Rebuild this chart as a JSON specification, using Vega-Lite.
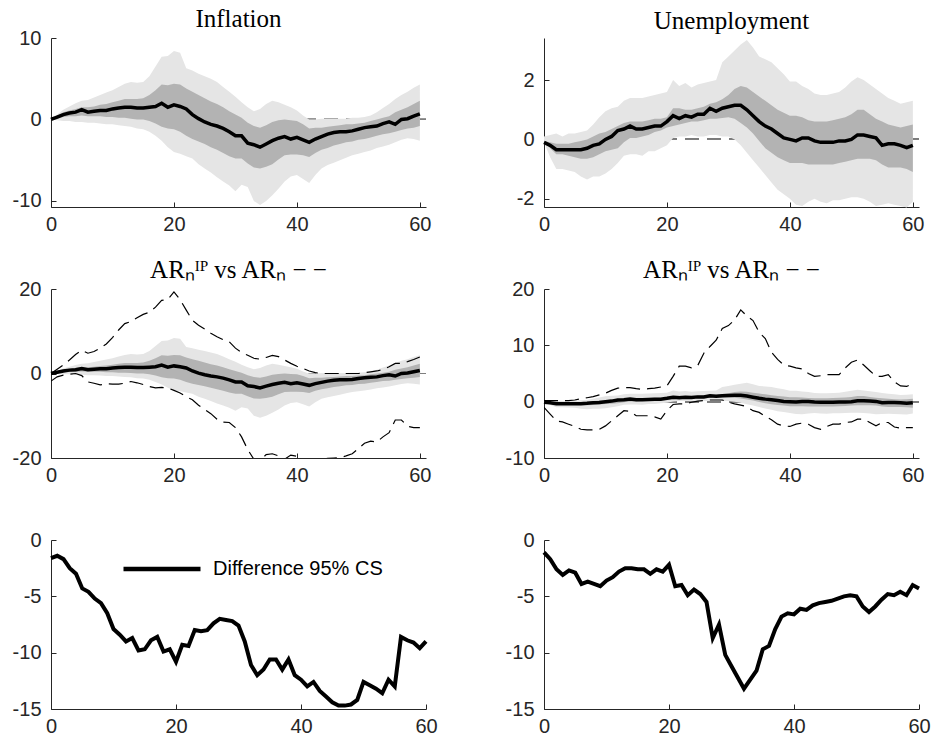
{
 "$schema": "https://vega.github.io/schema/vega-lite/v6.json",
 "background": "white",
 "padding": {"left": 12, "top": 7, "right": 0, "bottom": 0},
 "columns": 2,
 "spacing": {"row": 82, "column": 118},
 "bounds": "flush",
 "resolve": {"scale": {"stroke": "independent"}, "legend": {"stroke": "independent"}},
 "config": {
  "view": {"stroke": null},
  "axis": {"grid": false, "domainColor": "#262626", "domainWidth": 1, "tickColor": "#262626", "tickWidth": 1, "tickSize": -5, "labelColor": "#262626", "labelFont": "Liberation Sans", "labelFontSize": 20, "labelFlush": false, "labelOverlap": false, "labelExpr": "replace(datum.label, '−', '-')"},
  "axisX": {"labelPadding": 12},
  "axisY": {"labelPadding": 15},
  "title": {"font": "Liberation Serif", "fontSize": 25, "fontWeight": "normal", "color": "black", "baseline": "alphabetic", "frame": "group", "anchor": "middle"}
 },
 "datasets": {
  "infl": [
   {"h":0,"med":0,"lo68":0,"hi68":0,"lo95":0,"hi95":0,"arlo":-1.8,"arhi":0},
   {"h":1,"med":0.3,"lo68":0.1,"hi68":0.5,"lo95":-0.1,"hi95":0.6,"arlo":-0.8,"arhi":1.0},
   {"h":2,"med":0.6,"lo68":0.3,"hi68":0.9,"lo95":-0.2,"hi95":1.2,"arlo":-0.4,"arhi":2.0},
   {"h":3,"med":0.8,"lo68":0.4,"hi68":1.1,"lo95":-0.2,"hi95":1.6,"arlo":-0.2,"arhi":3.2},
   {"h":4,"med":0.9,"lo68":0.4,"hi68":1.3,"lo95":-0.3,"hi95":2.0,"arlo":0,"arhi":4.5},
   {"h":5,"med":1.2,"lo68":0.5,"hi68":1.5,"lo95":-0.3,"hi95":2.3,"arlo":-0.5,"arhi":5.5},
   {"h":6,"med":0.9,"lo68":0.4,"hi68":1.5,"lo95":-0.4,"hi95":2.4,"arlo":-2.0,"arhi":4.8},
   {"h":7,"med":1.0,"lo68":0.4,"hi68":1.6,"lo95":-0.4,"hi95":2.7,"arlo":-2.3,"arhi":5.2},
   {"h":8,"med":1.1,"lo68":0.4,"hi68":1.8,"lo95":-0.5,"hi95":3.0,"arlo":-2.7,"arhi":6.0},
   {"h":9,"med":1.1,"lo68":0.3,"hi68":1.9,"lo95":-0.6,"hi95":3.3,"arlo":-2.4,"arhi":7.0},
   {"h":10,"med":1.3,"lo68":0.3,"hi68":2.1,"lo95":-0.6,"hi95":3.6,"arlo":-2.5,"arhi":8.5},
   {"h":11,"med":1.4,"lo68":0.2,"hi68":2.3,"lo95":-0.7,"hi95":4.0,"arlo":-2.5,"arhi":10.3},
   {"h":12,"med":1.5,"lo68":0.2,"hi68":2.5,"lo95":-0.8,"hi95":4.4,"arlo":-2.3,"arhi":11.8},
   {"h":13,"med":1.5,"lo68":0.1,"hi68":2.5,"lo95":-0.9,"hi95":4.6,"arlo":-1.9,"arhi":12.3},
   {"h":14,"med":1.4,"lo68":0.0,"hi68":2.5,"lo95":-1.1,"hi95":4.5,"arlo":-2.2,"arhi":13.2},
   {"h":15,"med":1.4,"lo68":0.0,"hi68":2.6,"lo95":-1.2,"hi95":4.6,"arlo":-2.6,"arhi":14.0},
   {"h":16,"med":1.5,"lo68":-0.2,"hi68":3.0,"lo95":-1.5,"hi95":5.3,"arlo":-3.1,"arhi":14.5},
   {"h":17,"med":1.6,"lo68":-0.5,"hi68":3.6,"lo95":-2.0,"hi95":6.5,"arlo":-3.4,"arhi":15.7},
   {"h":18,"med":2.0,"lo68":-0.9,"hi68":4.3,"lo95":-2.6,"hi95":7.7,"arlo":-3.3,"arhi":17.3},
   {"h":19,"med":1.5,"lo68":-1.1,"hi68":4.2,"lo95":-3.4,"hi95":7.8,"arlo":-3.4,"arhi":17.5},
   {"h":20,"med":1.8,"lo68":-1.2,"hi68":4.4,"lo95":-4.0,"hi95":8.4,"arlo":-4.0,"arhi":19.3},
   {"h":21,"med":1.6,"lo68":-1.5,"hi68":4.3,"lo95":-4.2,"hi95":8.2,"arlo":-4.6,"arhi":17.5},
   {"h":22,"med":1.3,"lo68":-2.0,"hi68":3.8,"lo95":-4.5,"hi95":6.3,"arlo":-5.5,"arhi":15.0},
   {"h":23,"med":0.6,"lo68":-2.4,"hi68":3.4,"lo95":-4.8,"hi95":6.0,"arlo":-6.2,"arhi":12.6},
   {"h":24,"med":0.1,"lo68":-2.7,"hi68":3.0,"lo95":-5.5,"hi95":5.6,"arlo":-7.5,"arhi":11.4},
   {"h":25,"med":-0.3,"lo68":-3.0,"hi68":2.6,"lo95":-6.0,"hi95":5.3,"arlo":-8.5,"arhi":10.5},
   {"h":26,"med":-0.6,"lo68":-3.4,"hi68":2.2,"lo95":-6.5,"hi95":5.0,"arlo":-9.5,"arhi":9.5},
   {"h":27,"med":-0.8,"lo68":-3.7,"hi68":1.9,"lo95":-7.1,"hi95":4.6,"arlo":-10.8,"arhi":8.7},
   {"h":28,"med":-1.1,"lo68":-4.1,"hi68":1.5,"lo95":-7.6,"hi95":4.0,"arlo":-11.5,"arhi":8.0},
   {"h":29,"med":-1.5,"lo68":-4.5,"hi68":1.0,"lo95":-8.1,"hi95":3.4,"arlo":-11.6,"arhi":7.5},
   {"h":30,"med":-2.0,"lo68":-4.8,"hi68":0.6,"lo95":-8.8,"hi95":2.8,"arlo":-12.8,"arhi":6.0},
   {"h":31,"med":-2.0,"lo68":-4.8,"hi68":0.2,"lo95":-8.0,"hi95":2.1,"arlo":-15.0,"arhi":5.0},
   {"h":32,"med":-2.9,"lo68":-5.4,"hi68":-0.4,"lo95":-8.3,"hi95":1.5,"arlo":-18.0,"arhi":4.3},
   {"h":33,"med":-3.1,"lo68":-5.9,"hi68":-0.8,"lo95":-10.0,"hi95":1.0,"arlo":-20.3,"arhi":3.6},
   {"h":34,"med":-3.4,"lo68":-6.0,"hi68":-1.0,"lo95":-10.5,"hi95":1.3,"arlo":-20.6,"arhi":3.4},
   {"h":35,"med":-3.0,"lo68":-5.8,"hi68":-0.7,"lo95":-10.0,"hi95":1.9,"arlo":-19.2,"arhi":3.8},
   {"h":36,"med":-2.6,"lo68":-5.5,"hi68":-0.3,"lo95":-9.3,"hi95":2.3,"arlo":-19.0,"arhi":4.3},
   {"h":37,"med":-2.3,"lo68":-4.9,"hi68":-0.1,"lo95":-8.5,"hi95":2.1,"arlo":-19.5,"arhi":4.0},
   {"h":38,"med":-2.1,"lo68":-4.4,"hi68":0.0,"lo95":-7.6,"hi95":1.8,"arlo":-20.3,"arhi":3.2},
   {"h":39,"med":-2.4,"lo68":-4.3,"hi68":-0.1,"lo95":-7.0,"hi95":1.5,"arlo":-19.3,"arhi":2.4},
   {"h":40,"med":-2.2,"lo68":-4.3,"hi68":-0.2,"lo95":-6.8,"hi95":1.1,"arlo":-19.6,"arhi":1.7},
   {"h":41,"med":-2.5,"lo68":-4.4,"hi68":-0.6,"lo95":-7.3,"hi95":0.5,"arlo":-20.5,"arhi":1.2},
   {"h":42,"med":-2.8,"lo68":-4.6,"hi68":-1.1,"lo95":-7.8,"hi95":0.0,"arlo":-20.5,"arhi":0.6},
   {"h":43,"med":-2.4,"lo68":-4.1,"hi68":-1.0,"lo95":-6.8,"hi95":0.0,"arlo":-20.3,"arhi":0.2},
   {"h":44,"med":-2.1,"lo68":-3.7,"hi68":-1.0,"lo95":-6.0,"hi95":0.1,"arlo":-20.3,"arhi":0},
   {"h":45,"med":-1.8,"lo68":-3.5,"hi68":-0.9,"lo95":-5.6,"hi95":0.1,"arlo":-20.1,"arhi":0},
   {"h":46,"med":-1.6,"lo68":-3.2,"hi68":-0.8,"lo95":-5.3,"hi95":0.1,"arlo":-20.0,"arhi":0},
   {"h":47,"med":-1.5,"lo68":-3.0,"hi68":-0.7,"lo95":-5.0,"hi95":0.1,"arlo":-19.9,"arhi":0},
   {"h":48,"med":-1.5,"lo68":-2.8,"hi68":-0.6,"lo95":-4.7,"hi95":0.1,"arlo":-19.5,"arhi":0},
   {"h":49,"med":-1.4,"lo68":-2.7,"hi68":-0.6,"lo95":-4.4,"hi95":0.2,"arlo":-19.0,"arhi":0},
   {"h":50,"med":-1.2,"lo68":-2.5,"hi68":-0.5,"lo95":-4.2,"hi95":0.2,"arlo":-17.8,"arhi":0},
   {"h":51,"med":-1.0,"lo68":-2.4,"hi68":-0.4,"lo95":-4.0,"hi95":0.3,"arlo":-16.5,"arhi":0.2},
   {"h":52,"med":-0.9,"lo68":-2.2,"hi68":-0.2,"lo95":-3.8,"hi95":0.5,"arlo":-16.0,"arhi":0.4},
   {"h":53,"med":-0.8,"lo68":-2.0,"hi68":0.0,"lo95":-3.5,"hi95":0.9,"arlo":-16.2,"arhi":0.6},
   {"h":54,"med":-0.5,"lo68":-1.8,"hi68":0.2,"lo95":-3.3,"hi95":1.4,"arlo":-15.0,"arhi":0.9},
   {"h":55,"med":-0.3,"lo68":-1.7,"hi68":0.4,"lo95":-3.1,"hi95":1.9,"arlo":-14.0,"arhi":1.6},
   {"h":56,"med":-0.6,"lo68":-1.5,"hi68":0.9,"lo95":-2.8,"hi95":2.5,"arlo":-11.0,"arhi":2.4},
   {"h":57,"med":0.0,"lo68":-1.3,"hi68":1.2,"lo95":-2.5,"hi95":3.0,"arlo":-11.0,"arhi":2.4},
   {"h":58,"med":0.1,"lo68":-1.1,"hi68":1.5,"lo95":-2.3,"hi95":3.4,"arlo":-12.5,"arhi":2.8},
   {"h":59,"med":0.4,"lo68":-1.0,"hi68":1.9,"lo95":-2.4,"hi95":3.9,"arlo":-12.8,"arhi":3.3},
   {"h":60,"med":0.7,"lo68":-0.8,"hi68":2.3,"lo95":-2.6,"hi95":4.3,"arlo":-12.8,"arhi":3.9}
  ],
  "unemp": [
   {"h":0,"med":-0.1,"lo68":-0.1,"hi68":-0.05,"lo95":-0.1,"hi95":0.1,"arlo":-1.0,"arhi":0.2},
   {"h":1,"med":-0.2,"lo68":-0.3,"hi68":-0.1,"lo95":-0.6,"hi95":0.15,"arlo":-2.2,"arhi":0.2},
   {"h":2,"med":-0.35,"lo68":-0.5,"hi68":-0.15,"lo95":-1.0,"hi95":0.2,"arlo":-3.4,"arhi":0.2},
   {"h":3,"med":-0.35,"lo68":-0.5,"hi68":-0.15,"lo95":-1.0,"hi95":0.1,"arlo":-3.6,"arhi":0.2},
   {"h":4,"med":-0.35,"lo68":-0.55,"hi68":-0.15,"lo95":-1.05,"hi95":0.2,"arlo":-4.0,"arhi":0.2},
   {"h":5,"med":-0.35,"lo68":-0.6,"hi68":-0.1,"lo95":-1.1,"hi95":0.2,"arlo":-4.4,"arhi":0.3},
   {"h":6,"med":-0.35,"lo68":-0.65,"hi68":-0.05,"lo95":-1.25,"hi95":0.25,"arlo":-4.9,"arhi":0.5},
   {"h":7,"med":-0.3,"lo68":-0.65,"hi68":0.0,"lo95":-1.35,"hi95":0.3,"arlo":-5.0,"arhi":0.7},
   {"h":8,"med":-0.2,"lo68":-0.6,"hi68":0.1,"lo95":-1.25,"hi95":0.5,"arlo":-5.0,"arhi":0.9},
   {"h":9,"med":-0.15,"lo68":-0.5,"hi68":0.2,"lo95":-1.25,"hi95":0.75,"arlo":-4.9,"arhi":1.2},
   {"h":10,"med":0.0,"lo68":-0.4,"hi68":0.25,"lo95":-1.15,"hi95":0.95,"arlo":-4.3,"arhi":1.5},
   {"h":11,"med":0.1,"lo68":-0.35,"hi68":0.35,"lo95":-1.0,"hi95":1.05,"arlo":-3.4,"arhi":2.0},
   {"h":12,"med":0.3,"lo68":-0.3,"hi68":0.45,"lo95":-0.8,"hi95":1.1,"arlo":-2.5,"arhi":2.4},
   {"h":13,"med":0.35,"lo68":-0.1,"hi68":0.55,"lo95":-0.55,"hi95":1.3,"arlo":-1.6,"arhi":2.5},
   {"h":14,"med":0.45,"lo68":0.05,"hi68":0.6,"lo95":-0.5,"hi95":1.4,"arlo":-1.7,"arhi":2.5},
   {"h":15,"med":0.35,"lo68":0.05,"hi68":0.6,"lo95":-0.5,"hi95":1.4,"arlo":-2.5,"arhi":2.3},
   {"h":16,"med":0.35,"lo68":0.1,"hi68":0.6,"lo95":-0.55,"hi95":1.4,"arlo":-2.5,"arhi":2.2},
   {"h":17,"med":0.4,"lo68":0.15,"hi68":0.65,"lo95":-0.4,"hi95":1.45,"arlo":-2.5,"arhi":2.3},
   {"h":18,"med":0.45,"lo68":0.25,"hi68":0.7,"lo95":-0.4,"hi95":1.5,"arlo":-2.7,"arhi":2.4},
   {"h":19,"med":0.45,"lo68":0.3,"hi68":0.7,"lo95":-0.3,"hi95":1.55,"arlo":-3.1,"arhi":2.6},
   {"h":20,"med":0.6,"lo68":0.4,"hi68":0.75,"lo95":-0.2,"hi95":1.6,"arlo":-1.6,"arhi":2.8},
   {"h":21,"med":0.8,"lo68":0.45,"hi68":1.05,"lo95":0.05,"hi95":2.0,"arlo":-0.5,"arhi":4.5},
   {"h":22,"med":0.7,"lo68":0.5,"hi68":1.05,"lo95":0.1,"hi95":1.8,"arlo":-0.4,"arhi":6.3},
   {"h":23,"med":0.8,"lo68":0.55,"hi68":1.0,"lo95":0.1,"hi95":1.9,"arlo":-0.4,"arhi":6.3},
   {"h":24,"med":0.75,"lo68":0.6,"hi68":1.0,"lo95":0.15,"hi95":1.75,"arlo":-0.1,"arhi":6.0},
   {"h":25,"med":0.85,"lo68":0.6,"hi68":1.05,"lo95":0.1,"hi95":1.85,"arlo":0.1,"arhi":6.4},
   {"h":26,"med":0.85,"lo68":0.65,"hi68":1.1,"lo95":0.1,"hi95":1.9,"arlo":0.2,"arhi":8.6},
   {"h":27,"med":1.05,"lo68":0.7,"hi68":1.2,"lo95":0.15,"hi95":1.95,"arlo":0.3,"arhi":9.8},
   {"h":28,"med":0.95,"lo68":0.7,"hi68":1.25,"lo95":0.15,"hi95":2.0,"arlo":0.3,"arhi":10.9},
   {"h":29,"med":1.05,"lo68":0.72,"hi68":1.35,"lo95":0.1,"hi95":2.6,"arlo":0.3,"arhi":13.0},
   {"h":30,"med":1.1,"lo68":0.75,"hi68":1.5,"lo95":0.1,"hi95":2.8,"arlo":-0.1,"arhi":13.5},
   {"h":31,"med":1.15,"lo68":0.7,"hi68":1.7,"lo95":0.0,"hi95":3.0,"arlo":-0.4,"arhi":14.5},
   {"h":32,"med":1.15,"lo68":0.55,"hi68":1.8,"lo95":-0.2,"hi95":3.2,"arlo":-0.6,"arhi":16.3},
   {"h":33,"med":1.0,"lo68":0.4,"hi68":1.75,"lo95":-0.45,"hi95":3.35,"arlo":-0.9,"arhi":15.2},
   {"h":34,"med":0.8,"lo68":0.2,"hi68":1.6,"lo95":-0.7,"hi95":3.1,"arlo":-1.6,"arhi":14.4},
   {"h":35,"med":0.6,"lo68":-0.05,"hi68":1.45,"lo95":-0.95,"hi95":2.8,"arlo":-1.9,"arhi":12.3},
   {"h":36,"med":0.45,"lo68":-0.3,"hi68":1.3,"lo95":-1.2,"hi95":2.7,"arlo":-2.6,"arhi":11.2},
   {"h":37,"med":0.35,"lo68":-0.45,"hi68":1.15,"lo95":-1.45,"hi95":2.6,"arlo":-3.2,"arhi":8.8},
   {"h":38,"med":0.2,"lo68":-0.6,"hi68":1.0,"lo95":-1.7,"hi95":2.4,"arlo":-4.0,"arhi":7.5},
   {"h":39,"med":0.05,"lo68":-0.7,"hi68":0.9,"lo95":-1.85,"hi95":2.2,"arlo":-4.3,"arhi":6.5},
   {"h":40,"med":0.0,"lo68":-0.8,"hi68":0.8,"lo95":-2.0,"hi95":1.95,"arlo":-4.4,"arhi":6.3},
   {"h":41,"med":-0.05,"lo68":-0.8,"hi68":0.8,"lo95":-2.2,"hi95":1.95,"arlo":-4.0,"arhi":6.0},
   {"h":42,"med":0.05,"lo68":-0.8,"hi68":0.75,"lo95":-2.25,"hi95":1.8,"arlo":-3.8,"arhi":5.8},
   {"h":43,"med":0.05,"lo68":-0.85,"hi68":0.65,"lo95":-2.1,"hi95":1.7,"arlo":-4.0,"arhi":5.0},
   {"h":44,"med":-0.05,"lo68":-0.85,"hi68":0.6,"lo95":-2.0,"hi95":1.55,"arlo":-4.6,"arhi":4.5},
   {"h":45,"med":-0.1,"lo68":-0.85,"hi68":0.6,"lo95":-2.1,"hi95":1.5,"arlo":-4.9,"arhi":4.6},
   {"h":46,"med":-0.1,"lo68":-0.85,"hi68":0.6,"lo95":-2.15,"hi95":1.5,"arlo":-4.4,"arhi":4.8},
   {"h":47,"med":-0.1,"lo68":-0.85,"hi68":0.65,"lo95":-2.05,"hi95":1.55,"arlo":-4.0,"arhi":4.8},
   {"h":48,"med":-0.05,"lo68":-0.8,"hi68":0.7,"lo95":-2.05,"hi95":1.6,"arlo":-4.0,"arhi":4.8},
   {"h":49,"med":-0.05,"lo68":-0.75,"hi68":0.75,"lo95":-2.0,"hi95":1.75,"arlo":-3.7,"arhi":6.0},
   {"h":50,"med":0.0,"lo68":-0.7,"hi68":0.85,"lo95":-1.95,"hi95":1.95,"arlo":-3.6,"arhi":7.0},
   {"h":51,"med":0.15,"lo68":-0.65,"hi68":1.0,"lo95":-1.95,"hi95":2.1,"arlo":-3.1,"arhi":7.4},
   {"h":52,"med":0.15,"lo68":-0.65,"hi68":1.0,"lo95":-2.0,"hi95":2.0,"arlo":-3.1,"arhi":6.5},
   {"h":53,"med":0.1,"lo68":-0.65,"hi68":0.85,"lo95":-2.1,"hi95":1.85,"arlo":-3.7,"arhi":5.5},
   {"h":54,"med":0.05,"lo68":-0.7,"hi68":0.7,"lo95":-2.25,"hi95":1.7,"arlo":-4.3,"arhi":4.5},
   {"h":55,"med":-0.2,"lo68":-0.85,"hi68":0.6,"lo95":-2.2,"hi95":1.55,"arlo":-3.7,"arhi":4.5},
   {"h":56,"med":-0.15,"lo68":-0.95,"hi68":0.5,"lo95":-2.15,"hi95":1.4,"arlo":-3.7,"arhi":4.8},
   {"h":57,"med":-0.15,"lo68":-0.95,"hi68":0.45,"lo95":-2.2,"hi95":1.3,"arlo":-4.5,"arhi":3.5},
   {"h":58,"med":-0.2,"lo68":-0.95,"hi68":0.4,"lo95":-2.25,"hi95":1.2,"arlo":-4.7,"arhi":2.8},
   {"h":59,"med":-0.28,"lo68":-1.0,"hi68":0.45,"lo95":-2.3,"hi95":1.25,"arlo":-4.6,"arhi":2.7},
   {"h":60,"med":-0.2,"lo68":-1.1,"hi68":0.5,"lo95":-2.1,"hi95":1.3,"arlo":-4.6,"arhi":3.2}
  ],
  "diff": [
   {"h":0,"infl":-1.6,"unemp":-1.1},{"h":1,"infl":-1.4,"unemp":-1.7},{"h":2,"infl":-1.7,"unemp":-2.6},
   {"h":3,"infl":-2.5,"unemp":-3.1},{"h":4,"infl":-3.0,"unemp":-2.7},{"h":5,"infl":-4.3,"unemp":-2.9},
   {"h":6,"infl":-4.6,"unemp":-3.9},{"h":7,"infl":-5.2,"unemp":-3.7},{"h":8,"infl":-5.6,"unemp":-3.9},
   {"h":9,"infl":-6.5,"unemp":-4.1},{"h":10,"infl":-7.9,"unemp":-3.6},{"h":11,"infl":-8.4,"unemp":-3.3},
   {"h":12,"infl":-9.0,"unemp":-2.8},{"h":13,"infl":-8.7,"unemp":-2.5},{"h":14,"infl":-9.8,"unemp":-2.5},
   {"h":15,"infl":-9.7,"unemp":-2.6},{"h":16,"infl":-8.9,"unemp":-2.6},{"h":17,"infl":-8.6,"unemp":-3.0},
   {"h":18,"infl":-9.9,"unemp":-2.6},{"h":19,"infl":-9.7,"unemp":-2.8},{"h":20,"infl":-10.8,"unemp":-2.2},
   {"h":21,"infl":-9.3,"unemp":-4.1},{"h":22,"infl":-9.4,"unemp":-4.0},{"h":23,"infl":-8.0,"unemp":-4.9},
   {"h":24,"infl":-8.1,"unemp":-4.4},{"h":25,"infl":-8.0,"unemp":-4.8},{"h":26,"infl":-7.4,"unemp":-5.5},
   {"h":27,"infl":-7.0,"unemp":-8.7},{"h":28,"infl":-7.1,"unemp":-7.5},{"h":29,"infl":-7.2,"unemp":-10.2},
   {"h":30,"infl":-7.6,"unemp":-11.2},{"h":31,"infl":-9.0,"unemp":-12.2},{"h":32,"infl":-11.1,"unemp":-13.2},
   {"h":33,"infl":-12.0,"unemp":-12.4},{"h":34,"infl":-11.5,"unemp":-11.6},{"h":35,"infl":-10.6,"unemp":-9.7},
   {"h":36,"infl":-10.6,"unemp":-9.4},{"h":37,"infl":-11.5,"unemp":-7.9},{"h":38,"infl":-10.6,"unemp":-6.8},
   {"h":39,"infl":-12.0,"unemp":-6.5},{"h":40,"infl":-12.4,"unemp":-6.6},{"h":41,"infl":-13.0,"unemp":-6.1},
   {"h":42,"infl":-12.6,"unemp":-6.2},{"h":43,"infl":-13.4,"unemp":-5.8},{"h":44,"infl":-13.9,"unemp":-5.6},
   {"h":45,"infl":-14.4,"unemp":-5.5},{"h":46,"infl":-14.7,"unemp":-5.4},{"h":47,"infl":-14.7,"unemp":-5.2},
   {"h":48,"infl":-14.6,"unemp":-5.0},{"h":49,"infl":-14.2,"unemp":-4.9},{"h":50,"infl":-12.6,"unemp":-5.0},
   {"h":51,"infl":-12.9,"unemp":-5.9},{"h":52,"infl":-13.2,"unemp":-6.4},{"h":53,"infl":-13.6,"unemp":-5.9},
   {"h":54,"infl":-12.4,"unemp":-5.3},{"h":55,"infl":-13.0,"unemp":-4.8},{"h":56,"infl":-8.6,"unemp":-4.9},
   {"h":57,"infl":-8.9,"unemp":-4.6},{"h":58,"infl":-9.1,"unemp":-4.9},{"h":59,"infl":-9.6,"unemp":-4.0},
   {"h":60,"infl":-9.0,"unemp":-4.3}
  ]
 },
 "concat": [
  {
   "width": 375, "height": 169,
   "data": {"name": "infl"},
   "title": {"text": "Inflation", "offset": -4},
   "layer": [
    {"mark": {"type": "rule", "color": "#7f7f7f", "strokeDash": [14, 8], "strokeWidth": 1}, "encoding": {"y": {"datum": 0, "type": "quantitative"}}},
    {"mark": {"type": "area", "color": "#e5e5e5"}, "encoding": {
      "x": {"field": "h", "type": "quantitative", "title": null, "scale": {"domain": [0, 61], "nice": false}, "axis": {"values": [0, 20, 40, 60]}},
      "y": {"field": "lo95", "type": "quantitative", "title": null, "scale": {"domain": [-10.74, 10], "nice": false}, "axis": {"values": [-10, 0, 10]}},
      "y2": {"field": "hi95"}}},
    {"mark": {"type": "area", "color": "#b3b3b3"}, "encoding": {"x": {"field": "h", "type": "quantitative", "title": null}, "y": {"field": "lo68", "type": "quantitative", "title": null}, "y2": {"field": "hi68"}}},
    {"mark": {"type": "line", "color": "black", "strokeWidth": 3.5}, "encoding": {"x": {"field": "h", "type": "quantitative", "title": null}, "y": {"field": "med", "type": "quantitative", "title": null}}}
   ]
  },
  {
   "width": 375, "height": 169,
   "data": {"name": "unemp"},
   "title": {"text": "Unemployment", "offset": 4},
   "layer": [
    {"mark": {"type": "rule", "color": "#7f7f7f", "strokeDash": [14, 8], "strokeWidth": 1}, "encoding": {"y": {"datum": 0, "type": "quantitative"}}},
    {"mark": {"type": "area", "color": "#e5e5e5"}, "encoding": {
      "x": {"field": "h", "type": "quantitative", "title": null, "scale": {"domain": [0, 61], "nice": false}, "axis": {"values": [0, 20, 40, 60]}},
      "y": {"field": "lo95", "type": "quantitative", "title": null, "scale": {"domain": [-2.28, 3.42], "nice": false}, "axis": {"values": [-2, 0, 2]}},
      "y2": {"field": "hi95"}}},
    {"mark": {"type": "area", "color": "#b3b3b3"}, "encoding": {"x": {"field": "h", "type": "quantitative", "title": null}, "y": {"field": "lo68", "type": "quantitative", "title": null}, "y2": {"field": "hi68"}}},
    {"mark": {"type": "line", "color": "black", "strokeWidth": 3.5}, "encoding": {"x": {"field": "h", "type": "quantitative", "title": null}, "y": {"field": "med", "type": "quantitative", "title": null}}}
   ]
  },
  {
   "width": 375, "height": 169,
   "data": {"name": "infl"},
   "title": {"text": "ARₙᴵᴾ vs ARₙ − −", "offset": -4},
   "layer": [
    {"mark": {"type": "rule", "color": "#7f7f7f", "strokeDash": [14, 8], "strokeWidth": 1}, "encoding": {"y": {"datum": 0, "type": "quantitative"}}},
    {"mark": {"type": "area", "color": "#e5e5e5"}, "encoding": {
      "x": {"field": "h", "type": "quantitative", "title": null, "scale": {"domain": [0, 61], "nice": false}, "axis": {"values": [0, 20, 40, 60]}},
      "y": {"field": "lo95", "type": "quantitative", "title": null, "scale": {"domain": [-20, 20], "nice": false}, "axis": {"values": [-20, 0, 20]}},
      "y2": {"field": "hi95"}}},
    {"mark": {"type": "area", "color": "#b3b3b3"}, "encoding": {"x": {"field": "h", "type": "quantitative", "title": null}, "y": {"field": "lo68", "type": "quantitative", "title": null}, "y2": {"field": "hi68"}}},
    {"mark": {"type": "line", "color": "black", "strokeWidth": 1.2, "strokeDash": [14, 7], "clip": true}, "encoding": {"x": {"field": "h", "type": "quantitative", "title": null}, "y": {"field": "arhi", "type": "quantitative", "title": null}}},
    {"mark": {"type": "line", "color": "black", "strokeWidth": 1.2, "strokeDash": [14, 7], "clip": true}, "encoding": {"x": {"field": "h", "type": "quantitative", "title": null}, "y": {"field": "arlo", "type": "quantitative", "title": null}}},
    {"mark": {"type": "line", "color": "black", "strokeWidth": 3.5}, "encoding": {"x": {"field": "h", "type": "quantitative", "title": null}, "y": {"field": "med", "type": "quantitative", "title": null}}}
   ]
  },
  {
   "width": 375, "height": 169,
   "data": {"name": "unemp"},
   "title": {"text": "ARₙᴵᴾ vs ARₙ − −", "offset": -4},
   "layer": [
    {"mark": {"type": "rule", "color": "#7f7f7f", "strokeDash": [14, 8], "strokeWidth": 1}, "encoding": {"y": {"datum": 0, "type": "quantitative"}}},
    {"mark": {"type": "area", "color": "#e5e5e5"}, "encoding": {
      "x": {"field": "h", "type": "quantitative", "title": null, "scale": {"domain": [0, 61], "nice": false}, "axis": {"values": [0, 20, 40, 60]}},
      "y": {"field": "lo95", "type": "quantitative", "title": null, "scale": {"domain": [-10, 20], "nice": false}, "axis": {"values": [-10, 0, 10, 20]}},
      "y2": {"field": "hi95"}}},
    {"mark": {"type": "area", "color": "#b3b3b3"}, "encoding": {"x": {"field": "h", "type": "quantitative", "title": null}, "y": {"field": "lo68", "type": "quantitative", "title": null}, "y2": {"field": "hi68"}}},
    {"mark": {"type": "line", "color": "black", "strokeWidth": 1.2, "strokeDash": [14, 7], "clip": true}, "encoding": {"x": {"field": "h", "type": "quantitative", "title": null}, "y": {"field": "arhi", "type": "quantitative", "title": null}}},
    {"mark": {"type": "line", "color": "black", "strokeWidth": 1.2, "strokeDash": [14, 7], "clip": true}, "encoding": {"x": {"field": "h", "type": "quantitative", "title": null}, "y": {"field": "arlo", "type": "quantitative", "title": null}}},
    {"mark": {"type": "line", "color": "black", "strokeWidth": 3.5}, "encoding": {"x": {"field": "h", "type": "quantitative", "title": null}, "y": {"field": "med", "type": "quantitative", "title": null}}}
   ]
  },
  {
   "width": 375, "height": 169,
   "data": {"name": "diff"},
   "mark": {"type": "line", "strokeWidth": 4},
   "encoding": {
    "x": {"field": "h", "type": "quantitative", "title": null, "scale": {"domain": [0, 60], "nice": false}, "axis": {"values": [0, 20, 40, 60]}},
    "y": {"field": "infl", "type": "quantitative", "title": null, "scale": {"domain": [-15, 0], "nice": false}, "axis": {"values": [-15, -10, -5, 0]}},
    "stroke": {"datum": "Difference 95% CS", "type": "nominal", "scale": {"range": ["black"]},
      "legend": {"orient": "none", "legendX": 70, "legendY": -12, "title": null, "symbolType": "stroke", "symbolSize": 5929, "symbolStrokeWidth": 4.3, "labelFontSize": 20, "labelFont": "Liberation Sans", "labelColor": "black", "labelOffset": 10, "labelLimit": 400, "padding": 0}}
   }
  },
  {
   "width": 375, "height": 169,
   "data": {"name": "diff"},
   "mark": {"type": "line", "strokeWidth": 4, "color": "black"},
   "encoding": {
    "x": {"field": "h", "type": "quantitative", "title": null, "scale": {"domain": [0, 60], "nice": false}, "axis": {"values": [0, 20, 40, 60]}},
    "y": {"field": "unemp", "type": "quantitative", "title": null, "scale": {"domain": [-15, 0], "nice": false}, "axis": {"values": [-15, -10, -5, 0]}}
   }
  }
 ]
}
